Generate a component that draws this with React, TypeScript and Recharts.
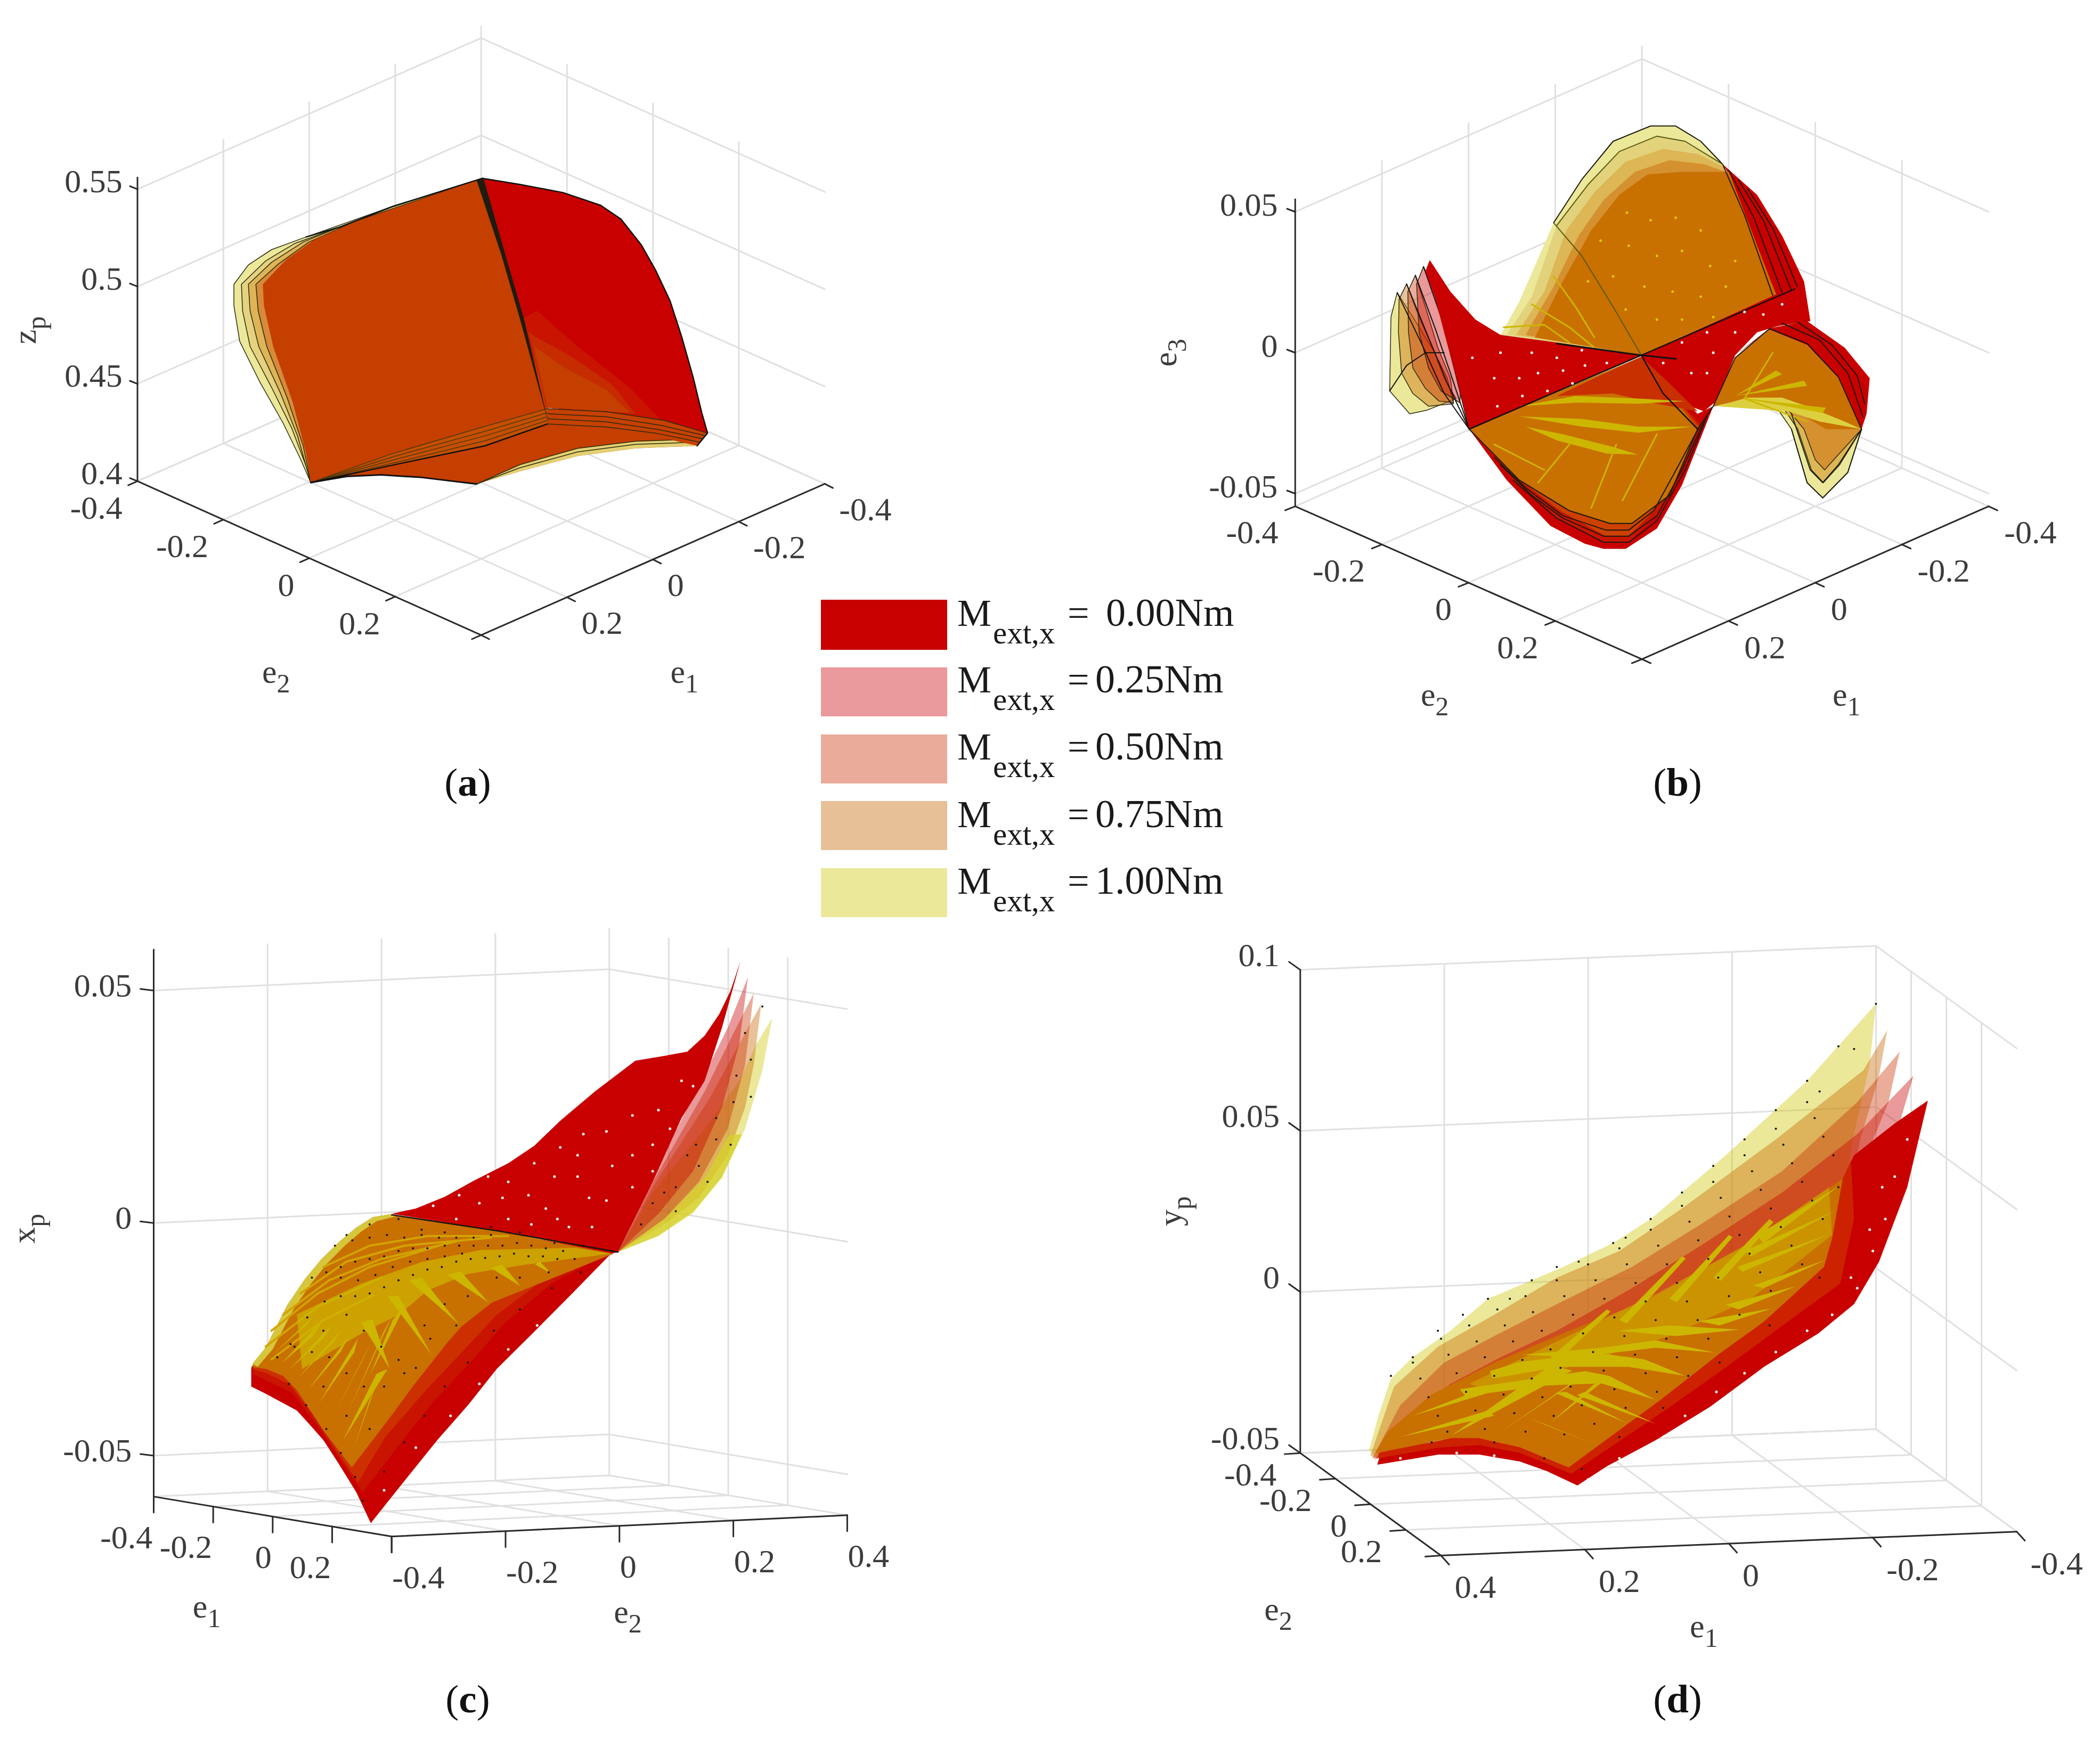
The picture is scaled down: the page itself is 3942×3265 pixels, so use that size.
import { Children } from "react";
import { ScatterChart, Scatter, XAxis, YAxis } from "recharts";

type Pt = [number, number];

const FONT = "'Liberation Serif', serif";
const TEXT = "#3c3c3c";
const RED = "#c80000";
const ORANGE = "#c87000";
const BROWN = "#c53f00";
const STREAK = "#cdb600";
const GRID = "#e0e0e0";
const AXIS = "#2b2b2b";

const E_TICKS = [-0.4, -0.2, 0, 0.2, 0.4];

const LEGEND_VALUES = ["0.00", "0.25", "0.50", "0.75", "1.00"];
const LEGEND_COLORS = ["#c80000", "#ea9a9c", "#eaab9a", "#e7c098", "#ebe89a"];

const LAYER_25 = "rgba(200,0,0,0.4)";
const LAYER_50 = "rgba(200,50,0,0.4)";
const LAYER_75 = "rgba(200,100,0,0.4)";
const LAYER_100 = "rgba(205,197,0,0.4)";

// ---- panel a, z_p ----
const A_LEFT_100: Pt[] = [[835,350],[680,405],[530,465],[470,490],[430,520],[405,558],[405,600],[415,670],[450,750],[490,830],[520,900],[538,947],[948,830]];
const A_LEFT_75: Pt[] = [[835,350],[680,406],[590,445],[510,478],[460,512],[418,558],[420,610],[433,680],[470,760],[505,840],[530,915],[538,947],[948,830]];
const A_LEFT_50: Pt[] = [[835,350],[600,440],[525,475],[470,515],[430,558],[433,610],[448,680],[485,770],[515,855],[538,947],[948,830]];
const A_LEFT_25: Pt[] = [[835,350],[610,437],[535,475],[482,518],[443,558],[447,610],[462,680],[497,780],[525,875],[538,947],[948,830]];
const A_LEFT_0: Pt[] = [[835,350],[620,433],[545,470],[495,510],[455,558],[457,600],[473,680],[507,790],[530,890],[538,947],[950,832],[948,800],[907,620]];
const A_BOTTOM: Pt[] = [[538,947],[600,935],[660,932],[730,937],[825,950],[900,925],[1000,895],[1100,880],[1207,875],[1225,850],[948,830]];
const A_EDGE_BOTTOM: Pt[] = [[538,947],[600,935],[660,932],[730,937],[825,950]];
const A_FAN_LEFT: Pt[] = [[538,947],[680,890],[830,840],[948,802],[948,832],[840,875],[700,908]];
const A_FAN_LINES: Pt[][] = [
  [[538,947],[680,890],[830,840],[948,802]],
  [[538,947],[685,895],[835,848],[948,810]],
  [[538,947],[690,900],[838,856],[948,818]],
  [[538,947],[695,905],[840,865],[948,825]],
];
const A_FAN_LAST: Pt[] = [[538,947],[700,908],[840,875],[948,832]];
const A_FRINGE: Pt[] = [[825,950],[900,925],[1000,895],[1100,880],[1207,875],[1205,862],[1100,866],[1000,880],[900,912]];
const A_FRINGE_LINES: Pt[][] = [
  [[825,950],[900,918],[1000,887],[1100,872],[1205,868]],
  [[825,950],[900,912],[1000,880],[1100,866],[1205,862]],
];
const A_RIGHT: Pt[] = [[835,350],[900,362],[975,378],[1040,403],[1075,430],[1110,480],[1135,530],[1160,590],[1180,660],[1200,740],[1215,810],[1225,850],[1100,818],[948,800],[905,620]];
const A_RIGHT_EDGE: Pt[] = [[835,350],[900,362],[975,378],[1040,403],[1075,430],[1110,480],[1135,530],[1160,590],[1180,660],[1200,740],[1215,810],[1225,850],[1207,875]];
const A_SHADE_1: Pt[] = [[905,625],[948,800],[1145,825],[1090,760],[1000,680],[930,610]];
const A_SHADE_2: Pt[] = [[915,650],[945,800],[1100,812],[1060,755],[990,700],[925,660]];
const A_SHADE_3: Pt[] = [[925,680],[948,800],[1090,810],[1050,765],[975,720]];
const A_FAN_RIGHT: Pt[] = [[948,802],[1050,808],[1150,825],[1225,850],[1207,875],[1130,855],[1050,840],[948,832]];
const A_FAN_RIGHT_LINES: Pt[][] = [
  [[948,802],[1050,808],[1150,825],[1225,850]],
  [[948,812],[1050,818],[1145,835],[1221,855]],
  [[948,822],[1050,828],[1140,843],[1217,861]],
  [[948,832],[1050,838],[1135,850],[1212,868]],
];
const A_RIDGE: Pt[] = [[825,353],[837,350],[880,520],[907,625],[950,832],[900,625],[868,500]];
const A_TOP_EDGE: Pt[] = [[835,350],[680,405],[590,445],[530,465]];

// ---- panel b, e_3 ----
const B_FIN_100: Pt[] = [[445,522],[435,570],[433,715],[465,760],[492,753],[539,730],[520,690],[505,640],[470,570]];
const B_FIN_75: Pt[] = [[460,505],[448,535],[447,600],[452,680],[470,720],[495,745],[535,740],[525,690],[505,640],[480,570]];
const B_FIN_50: Pt[] = [[474,488],[462,520],[463,600],[470,670],[490,710],[512,735],[535,738],[530,690],[510,630],[490,550]];
const B_FIN_25: Pt[] = [[487,471],[476,505],[480,600],[495,670],[515,715],[545,738],[548,690],[528,610],[510,530]];
const B_FIN_LINES: Pt[][] = [
  [[445,522],[485,625],[520,720],[560,790]],
  [[460,505],[495,610],[525,700],[560,790]],
  [[474,488],[505,590],[530,680],[560,790]],
  [[487,471],[515,570],[538,680],[560,790]],
  [[433,715],[460,665],[490,640],[520,640]],
];
const B_DOME_RED: Pt[] = [[965,270],[1020,330],[1060,410],[1095,500],[1105,578],[1040,590],[835,645],[980,300]];
const B_DOME_100: Pt[] = [[610,605],[640,540],[695,385],[740,300],[790,225],[850,195],[890,195],[930,225],[965,270],[1050,525],[835,645]];
const B_DOME_75: Pt[] = [[620,605],[660,530],[700,390],[750,310],[800,245],[860,215],[905,225],[965,270],[1050,525],[835,645]];
const B_DOME_50: Pt[] = [[635,605],[680,520],[715,400],[760,325],[810,265],[870,240],[925,250],[967,275],[1050,525],[835,645]];
const B_DOME_25: Pt[] = [[650,605],[695,510],[735,410],[775,340],[825,285],[880,262],[935,270],[970,285],[1050,525],[835,645]];
const B_DOME_0: Pt[] = [[665,610],[705,510],[755,400],[800,330],[845,290],[900,285],[975,285],[1050,525],[835,645]];
const B_DOME_DARK: Pt[][] = [
  [[965,270],[1000,370],[1045,527]],
  [[975,282],[1015,375],[1060,522]],
  [[990,300],[1030,380],[1075,518]],
  [[1005,318],[1045,395],[1085,512]],
  [[695,385],[740,300],[790,225],[850,195],[890,195],[930,225],[965,270]],
];
const B_DOME_SOFT: Pt[][] = [
  [[695,385],[740,450],[790,550],[835,645]],
  [[700,390],[750,310],[800,245],[860,215],[905,225],[965,270]],
];
const B_WING_LEFT: Pt[] = [[497,458],[530,520],[570,575],[610,605],[700,620],[835,645],[560,790],[540,690],[520,600],[505,530],[490,480]];
const B_WING_RIGHT: Pt[] = [[835,645],[1080,515],[1095,500],[1105,578],[1060,585],[1020,600],[985,645],[955,735],[935,755],[880,730],[850,680]];
const B_FRONT_RED: Pt[] = [[560,790],[620,890],[690,980],[745,1015],[775,1025],[810,1025],[860,985],[900,900],[950,745],[925,760],[835,648]];
const B_FRONT_1: Pt[] = [[572,805],[630,890],[700,965],[775,1012],[815,1012],[860,960],[900,870],[930,780],[835,648]];
const B_FRONT_2: Pt[] = [[566,798],[630,880],[705,950],[778,1000],[815,1000],[855,950],[895,860],[928,785],[835,648]];
const B_FRONT_0: Pt[] = [[560,790],[640,890],[720,950],[785,975],[820,975],[880,920],[925,790],[900,750],[835,648]];
const B_GLOW: Pt[] = [[835,648],[760,690],[700,725],[790,720],[860,740],[925,755],[880,700]];
const B_FRONT_LINES: Pt[][] = [
  [[560,790],[640,890],[720,950],[785,975],[820,975],[880,920],[925,790],[950,745],[985,650],[1040,593]],
  [[600,845],[650,905],[710,960],[778,988],[815,988],[855,950],[895,860],[930,780]],
  [[610,860],[660,920],[710,965],[775,1000],[815,1000],[860,960],[900,870],[935,775]],
  [[630,890],[700,965],[775,1012],[815,1012],[860,970],[905,870],[940,765]],
];
const B_LOBE_100: Pt[] = [[950,745],[1000,728],[1050,745],[1075,790],[1100,895],[1125,925],[1165,875],[1187,790],[1130,730],[1040,600]];
const B_LOBE_75: Pt[] = [[960,740],[1010,728],[1060,745],[1085,790],[1107,870],[1126,895],[1152,860],[1187,790],[1130,730],[1040,600]];
const B_LOBE_50: Pt[] = [[965,738],[1010,730],[1065,745],[1095,790],[1113,850],[1128,870],[1150,840],[1187,790],[1130,730],[1040,600]];
const B_LOBE_YELLOW: Pt[] = [[955,745],[1005,728],[1060,728],[1100,745],[1160,775],[1187,790],[1120,775],[1070,755]];
const B_LOBE_RED: Pt[] = [[985,645],[1040,592],[1100,578],[1160,630],[1200,690],[1195,760],[1187,790],[1150,690],[1100,625],[1040,595]];
const B_LOBE_0: Pt[] = [[950,745],[985,650],[1040,595],[1100,625],[1150,690],[1187,790],[1130,790],[1070,745],[1010,730]];
const B_LOBE_LINES: Pt[][] = [
  [[1040,593],[1100,622],[1150,688],[1187,790]],
  [[1060,582],[1120,615],[1165,680],[1189,765]],
  [[1085,580],[1140,625],[1180,685],[1192,740]],
  [[1075,790],[1100,895],[1125,925],[1165,875],[1187,790]],
  [[1075,760],[1105,870],[1125,895],[1150,860],[1187,790]],
];
const B_ARCS: Pt[][] = [
  [[640,745],[730,725],[830,730],[905,735],[830,740],[730,738]],
  [[640,765],[740,770],[830,785],[918,785],[830,797],[740,785]],
  [[650,785],[710,800],[790,825],[830,840],[780,838],[700,812]],
  [[985,725],[1050,675],[1060,682]],
  [[985,725],[1095,695],[1100,705]],
  [[990,728],[1130,748],[1125,758]],
];
const B_STREAKS_THIN: Pt[][] = [
  [[670,895],[720,820]],
  [[755,945],[795,820]],
  [[805,930],[860,800]],
  [[600,820],[680,870]],
  [[1000,730],[1045,640]],
  [[1000,730],[1100,775]],
];
const B_STREAKS_DOME: Pt[][] = [
  [[695,490],[730,550],[760,610]],
  [[660,545],[720,590],[770,640]],
  [[615,590],[680,585],[720,620]],
];
const B_WHITE_DOTS: Pt[] = [[600,690],[640,690],[670,680],[710,675],[745,665],[565,650],[610,640],[660,640],[700,650],[740,635],[780,660],[605,745],[645,725],[685,715],[725,700],[900,620],[940,600],[985,600],[1030,565],[1060,545],[1000,560],[950,640],[915,680],[870,660],[940,680]];
const B_YELLOW_DOTS: Pt[] = [[812,365],[850,380],[890,375],[930,400],[770,420],[815,430],[860,450],[900,440],[945,470],[985,460],[790,490],[840,510],[885,520],[930,530],[970,510],[750,500],[810,555],[860,575],[900,575],[950,570]];

// ---- panel c, x_p ----
const C_FIN_100: Pt[] = [[1070,652],[1140,620],[1200,575],[1250,510],[1290,420],[1320,310],[1337,212],[1310,260],[1280,330],[1220,420],[1130,540]];
const C_FIN_75: Pt[] = [[1070,652],[1150,600],[1210,550],[1260,470],[1290,380],[1305,300],[1318,185],[1280,260],[1230,360],[1130,530]];
const C_FIN_50: Pt[] = [[1070,652],[1150,590],[1210,520],[1260,420],[1290,300],[1305,165],[1270,240],[1220,350],[1120,540]];
const C_FIN_25: Pt[] = [[1070,652],[1140,580],[1200,500],[1250,380],[1280,260],[1295,135],[1260,230],[1210,340],[1110,550]];
const C_FIN_LOW: Pt[] = [[1070,652],[1140,622],[1200,578],[1250,512],[1285,430],[1262,432],[1222,510],[1150,590]];
const C_TOP: Pt[] = [[678,580],[720,570],[770,548],[820,518],[880,485],[925,452],[970,405],[1030,350],[1100,292],[1150,283],[1190,275],[1220,245],[1245,205],[1265,160],[1282,105],[1250,230],[1220,330],[1180,400],[1130,520],[1070,652],[860,612]];
const C_LOW: Pt[] = [[435,905],[461,919],[514,950],[535,975],[560,1006],[584,1046],[617,1104],[642,1162],[691,1095],[757,1006],[811,939],[860,872],[922,805],[988,733],[1058,655],[1070,652],[678,582],[617,606],[556,666],[498,751],[461,830],[435,870]];
const C_BAND_1: Pt[] = [[436,880],[461,894],[506,917],[556,988],[597,1055],[628,1104],[691,1015],[749,935],[815,859],[873,787],[955,711],[1017,675],[1062,655],[800,650],[500,780]];
const C_CORE: Pt[] = [[435,868],[461,872],[490,885],[514,912],[560,988],[609,1057],[667,975],[716,903],[774,823],[799,792],[852,747],[914,720],[996,684],[1062,655],[860,612],[675,581],[646,586],[617,606],[589,631],[556,666],[527,704],[498,751],[461,830]];
const C_BAND_2: Pt[] = [[436,872],[461,880],[500,900],[540,955],[585,1030],[620,1085],[667,1000],[735,915],[800,840],[860,770],[940,705],[1000,680],[1062,655],[800,650],[500,780]];
const C_FRINGE: Pt[] = [[437,862],[461,830],[498,751],[527,704],[556,666],[589,631],[617,606],[646,586],[675,581],[685,585],[652,594],[625,614],[597,640],[566,674],[538,712],[508,760],[472,835],[446,868]];
const C_RIDGE_BAND: Pt[] = [[514,769],[626,711],[729,671],[832,648],[996,644],[1058,655],[914,675],[811,693],[741,724],[692,769],[626,805],[523,872]];
const C_SPIKES: Pt[][] = [
  [[593,1008],[652,881],[671,872]],
  [[572,970],[626,859],[642,823]],
  [[552,937],[613,841],[620,814]],
  [[533,912],[589,841],[605,809]],
  [[515,890],[576,823],[593,796]],
  [[500,874],[560,814],[576,787]],
  [[486,863],[543,809],[560,778]],
  [[671,735],[690,735],[747,845]],
  [[708,705],[730,700],[794,787]],
  [[775,695],[797,688],[846,747]],
  [[850,682],[870,675],[901,716]],
  [[625,785],[645,778],[675,872]],
  [[926,675],[935,670],[955,693]],
  [[640,885],[680,780],[705,745]],
  [[600,960],[665,800],[680,770]],
  [[472,845],[530,790],[545,770]],
  [[610,1030],[640,930],[650,905]],
];
const C_FAN_LINES: Pt[][] = [
  [[470,854],[560,780],[646,733]],
  [[460,830],[550,755],[660,700]],
  [[470,800],[550,730],[640,680],[760,640]],
  [[490,770],[570,705],[660,665],[790,632]],
  [[520,730],[600,670],[700,640],[850,625]],
  [[560,680],[640,640],[740,622],[880,622]],
];
const C_BLACK_DOTS: Pt[] = [
  [503,825],[532,775],[562,745],[590,735],[615,735],[640,730],[665,718],[690,705],[715,695],[740,685],[765,680],[790,670],[815,665],[840,663],[865,660],[890,655],[915,660],[940,660],[965,665],[995,665],
  [540,700],[565,690],[590,680],[615,670],[640,665],[665,660],[690,650],[715,645],[740,645],[770,640],[795,640],[820,640],[845,640],[870,640],[895,635],[920,640],[945,645],[975,650],
  [580,640],[610,630],[640,625],[670,620],[700,625],[730,620],[760,625],[790,625],[820,625],[850,620],[590,700],[620,705],[650,695],[680,680],[710,670],[740,665],[770,660],[800,655],
  [480,850],[510,830],[560,800],[600,770],[630,800],[660,830],[690,855],[720,870],[735,790],[770,750],[810,735],[860,700],[900,700],[950,690],
  [540,840],[570,850],[600,880],[630,905],[665,905],[700,880],[745,815],[790,790],[600,960],[640,985],[560,905],
  [600,620],[640,600],[690,590],[730,610],[770,615],[850,605],[900,615],[960,635],[1010,640],[1060,650],
  [500,900],[530,940],[565,985],[590,1030],[615,1075],[628,1120],[665,1065],[700,1010],[735,960],[770,905],[810,860],[855,800],[900,760],[955,720],[1005,690],
  [1130,560],[1170,530],[1210,490],[1240,440],[1270,370],[1300,290],[1320,190],[1290,240],[1110,600],[1170,575],[1225,520],[1265,450],[1300,360],[1190,470],[1240,400],[1275,320],[1150,540],[1205,450],
];
const C_WHITE_DOTS: Pt[] = [[750,565],[795,545],[845,510],[880,520],[925,485],[970,455],[1010,430],[1050,425],[1095,395],[1140,385],[1180,330],[790,590],[830,560],[870,550],[915,545],[960,510],[1000,510],[1020,550],[1060,490],[1095,470],[1130,450],[1160,420],[945,570],[985,605],[1025,605],[1050,555],[1095,530],[1130,500],[880,590],[920,600],[965,590],[1200,340],[1000,470],[665,1100],[720,1020],[780,960],[830,900],[880,835],[930,790]];

// ---- panel d, y_p ----
const D_LOWER: Pt[] = [[719,1057],[684,1040],[641,1019],[576,1002],[510,1005],[413,1040]];
const D_100: Pt[] = [[400,1025],[415,960],[435,890],[470,850],[530,800],[590,740],[650,710],[710,680],[790,635],[850,590],[970,470],[1100,330],[1210,185],[1200,300],[1175,430],[1140,660],...D_LOWER];
const D_75: Pt[] = [[402,1035],[440,905],[510,830],[600,770],[700,700],[800,650],[900,570],[1050,440],[1190,310],[1228,235],[1215,320],[1185,440],[1150,660],...D_LOWER];
const D_50: Pt[] = [[405,1040],[450,940],[520,860],[600,810],[700,750],[820,680],[930,600],[1060,500],[1180,370],[1248,275],[1230,370],[1195,470],[1160,660],...D_LOWER];
const D_25: Pt[] = [[408,1045],[460,960],[530,900],[610,850],[700,800],[820,720],[930,640],[1060,540],[1180,430],[1270,320],[1245,420],[1205,510],[1165,680],...D_LOWER];
const D_RED: Pt[] = [[1293,367],[1260,530],[1215,670],[1175,750],[1118,805],[1031,868],[945,943],[858,1006],[780,1055],[733,1091],[684,1064],[641,1046],[576,1033],[511,1033],[413,1052],[419,1030],[511,1010],[576,1005],[719,1057],[1157,514],[1175,470],[1240,410]];
const D_BAND_LOW: Pt[] = [[415,1040],[511,1020],[576,1015],[641,1030],[684,1050],[723,1069],[719,1057],[684,1040],[641,1019],[576,1002],[532,1002],[415,1030]];
const D_BAND_RIGHT: Pt[] = [[723,1069],[875,948],[962,876],[1075,778],[1153,711],[1175,590],[1170,480],[1157,514],[1140,626],[1127,680],[1031,783],[958,845],[866,930],[719,1057]];
const D_CORE: Pt[] = [[410,1030],[532,1002],[576,1002],[641,1019],[684,1040],[719,1057],[866,930],[958,845],[1031,783],[1127,680],[1140,626],[1157,514],[1000,640],[850,740],[720,800],[600,860],[500,920],[430,990]];
const D_GLOW: Pt[] = [[560,900],[700,820],[860,730],[1000,640],[1135,530],[1140,620],[1010,740],[880,810],[740,860],[600,915]];
const D_SPIKES: Pt[][] = [
  [[593,876],[640,859],[762,841],[840,854],[905,885],[814,868],[706,868],[597,890]],
  [[545,910],[641,894],[745,876],[784,885],[858,930],[771,899],[684,903],[554,923]],
  [[645,845],[771,832],[858,818],[953,841],[858,832],[728,850]],
  [[797,800],[880,790],[992,798],[890,810]],
  [[927,782],[1044,758],[960,790]],
  [[970,751],[1083,716],[990,760]],
  [[1014,715],[1131,666],[1031,720]],
  [[988,680],[1135,619],[997,689]],
  [[1000,650],[1144,575],[1010,660]],
  [[1020,620],[1151,528],[1030,635]],
  [[532,997],[690,865],[725,875]],
  [[602,997],[745,881],[725,900]],
  [[688,975],[780,890],[760,900]],
  [[658,966],[762,1015],[680,975]],
  [[697,917],[814,975],[715,915]],
  [[732,921],[858,975],[745,915]],
  [[470,960],[600,900],[610,910]],
  [[450,1000],[590,950],[600,960]],
  [[800,780],[900,660],[906,664],[812,786]],
  [[880,740],[975,620],[981,624],[892,746]],
  [[950,700],[1040,590],[1046,596],[962,706]],
  [[690,850],[780,760],[786,764],[702,856]],
];
const D_BLACK_DOTS: Pt[] = [
  [435,885],[470,850],[510,800],[550,770],[590,740],[625,740],[660,705],[700,680],[735,670],[790,635],[810,625],[850,590],[900,540],[950,490],[1000,440],[1050,385],[1100,330],[1150,265],[1210,185],[1175,270],[1120,350],
  [470,860],[482,890],[495,925],[510,960],[525,990],
  [515,815],[527,845],[540,880],[555,915],[570,950],[585,985],
  [560,790],[572,820],[585,850],[600,885],[615,920],[632,955],[650,990],
  [605,760],[617,790],[630,820],[645,855],[660,890],[677,925],[695,960],[712,995],
  [650,735],[662,765],[676,800],[690,835],[706,870],[722,905],[740,940],[760,975],
  [700,705],[712,735],[726,770],[742,805],[758,840],[775,875],[792,910],[810,945],
  [750,675],[762,705],[776,740],[792,775],[808,810],[825,845],[842,880],[860,915],
  [800,645],[812,675],[826,710],[842,745],[858,780],[875,815],[892,850],[910,885],
  [850,610],[862,640],[876,675],[892,710],[908,745],[925,780],[942,815],
  [900,565],[912,595],[926,630],[942,665],[958,700],[975,735],[992,770],
  [950,520],[962,550],[976,585],[992,620],[1008,655],[1025,690],[1042,725],
  [1000,470],[1012,500],[1026,535],[1042,570],[1058,605],[1075,640],[1092,675],
  [1050,420],[1062,450],[1076,485],[1092,520],[1108,555],[1125,590],
  [1100,370],[1112,400],[1126,435],[1142,470],[1150,530],
  [740,1060],[800,1000],[870,945],[960,860],[1040,790],[1120,700],[500,1010],[600,1010],[680,1040],
];
const D_WHITE_DOTS: Pt[] = [[905,960],[955,915],[1000,880],[1050,840],[1100,800],[1140,770],[1180,720],[1205,650],[1225,590],[1240,510],[1260,440],[870,1000],[800,1040],[750,1080],[1170,700],[1200,610],[1220,530],[1180,770],[600,1035],[540,1030],[450,1040]];

// ---- views: how e1, e2, z land in each panel's plane ----
type View = {
  origin: Pt; vE1: Pt; vE2: Pt; vZ: number; zRef: number; zMin: number; zMax: number;
  zTicks: number[]; zLabels: string[];
  backE1: number; backE2: number; zAxisAt: Pt; e1AxisE2: number; e2AxisE1: number;
  e1Labels: number[]; e2Labels: number[];
  tickE1: Pt; tickE2: Pt; tickZ: Pt;
  labelE1: Pt; labelE2: Pt; labelZ: Pt;
  anchorE1: string; anchorE2: string;
  titles: { x: number; y: number; main: string; sub: string; rotate?: boolean }[];
};

const VIEW_A: View = {
  origin: [833, 947], vE1: [-743.75, 371], vE2: [743.75, 377.5], vZ: -3820, zRef: 0.4, zMin: 0.4, zMax: 0.556,
  zTicks: [0.4, 0.45, 0.5, 0.55], zLabels: ["0.4", "0.45", "0.5", "0.55"],
  backE1: -0.4, backE2: -0.4, zAxisAt: [0.4, -0.4], e1AxisE2: 0.4, e2AxisE1: 0.4,
  e1Labels: [-0.4, -0.2, 0, 0.2], e2Labels: [-0.4, -0.2, 0, 0.2],
  tickE1: [14, 8], tickE2: [-16, 8], tickZ: [-13, -6],
  labelE1: [25, 50], labelE2: [-26, 52], labelZ: [-26, -16], anchorE1: "start", anchorE2: "end",
  titles: [
    { x: 478, y: 1340, main: "e", sub: "2" },
    { x: 1185, y: 1340, main: "e", sub: "1" },
    { x: 62, y: 648, main: "z", sub: "p", rotate: true },
  ],
};
const VIEW_B: View = {
  origin: [836, 640], vE1: [-692.5, 375], vE2: [692.5, 375], vZ: -5530, zRef: 0, zMin: -0.0545, zMax: 0.0545,
  zTicks: [-0.05, 0, 0.05], zLabels: ["-0.05", "0", "0.05"],
  backE1: -0.4, backE2: -0.4, zAxisAt: [0.4, -0.4], e1AxisE2: 0.4, e2AxisE1: 0.4,
  e1Labels: [-0.4, -0.2, 0, 0.2], e2Labels: [-0.4, -0.2, 0, 0.2],
  tickE1: [14, 8], tickE2: [-16, 8], tickZ: [-13, -6],
  labelE1: [25, 51], labelE2: [-27, 51], labelZ: [-28, -14], anchorE1: "start", anchorE2: "end",
  titles: [
    { x: 505, y: 1333, main: "e", sub: "2" },
    { x: 1163, y: 1333, main: "e", sub: "1" },
    { x: 92, y: 640, main: "e", sub: "3", rotate: true },
  ],
};
const VIEW_C: View = {
  origin: [866.5, 615], vE1: [515, 93.75], vE2: [986, -50], vZ: -8750, zRef: 0, zMin: -0.0588, zMax: 0.0588,
  zTicks: [-0.05, 0, 0.05], zLabels: ["-0.05", "0", "0.05"],
  backE1: -0.4, backE2: 0.4, zAxisAt: [-0.4, -0.4], e1AxisE2: -0.4, e2AxisE1: 0.4,
  e1Labels: [-0.4, -0.2, 0, 0.2], e2Labels: [-0.4, -0.2, 0, 0.2, 0.4],
  tickE1: [0, 30], tickE2: [0, 30], tickZ: [-23, -3],
  labelE1: [-2, 76], labelE2: [1, 76], labelZ: [-38, -10], anchorE1: "end", anchorE2: "start",
  titles: [
    { x: 358, y: 1340, main: "e", sub: "1" },
    { x: 1087, y: 1350, main: "e", sub: "2" },
    { x: 60, y: 608, main: "x", sub: "p", rotate: true },
  ],
};
const VIEW_D: View = {
  origin: [862.5, 801], vE1: [-1150, 56.25], vE2: [281, 241], vZ: -6060, zRef: 0, zMin: -0.05, zMax: 0.1,
  zTicks: [-0.05, 0, 0.05, 0.1], zLabels: ["-0.05", "0", "0.05", "0.1"],
  backE1: -0.4, backE2: -0.4, zAxisAt: [0.4, -0.4], e1AxisE2: 0.4, e2AxisE1: 0.4,
  e1Labels: [-0.4, -0.2, 0, 0.2, 0.4], e2Labels: [-0.4, -0.2, 0, 0.2],
  tickE1: [13, 17], tickE2: [-25, 2], tickZ: [-18, -15],
  labelE1: [22, 59], labelE2: [-38, 40], labelZ: [-33, -28], anchorE1: "start", anchorE2: "end",
  titles: [
    { x: 255, y: 1345, main: "e", sub: "2" },
    { x: 935, y: 1377, main: "e", sub: "1" },
    { x: 100, y: 575, main: "y", sub: "p", rotate: true },
  ],
};

const noDot = () => null;

function poly(pts: Pt[], fill: string, stroke = "none", sw = 0) {
  const rows = pts.map(([x, y]) => ({ x, y }));
  return (
    <Scatter
      data={rows}
      isAnimationActive={false}
      shape={noDot}
      line={(p: any) => (
        <path
          d={"M" + p.points.map((q: any) => `${q.x},${q.y}`).join("L") + "Z"}
          fill={fill}
          stroke={stroke}
          strokeWidth={sw}
          strokeLinejoin="round"
        />
      )}
    />
  );
}

function line(pts: Pt[], stroke: string, sw: number) {
  const rows = pts.map(([x, y]) => ({ x, y }));
  return (
    <Scatter
      data={rows}
      isAnimationActive={false}
      shape={noDot}
      line={(p: any) => (
        <path
          d={"M" + p.points.map((q: any) => `${q.x},${q.y}`).join("L")}
          fill="none"
          stroke={stroke}
          strokeWidth={sw}
          strokeLinejoin="round"
          strokeLinecap="round"
        />
      )}
    />
  );
}

function dots(pts: Pt[], fill: string, r: number) {
  return (
    <Scatter
      data={pts.map(([x, y]) => ({ x, y }))}
      isAnimationActive={false}
      shape={(p: any) => <circle cx={p.cx} cy={p.cy} r={r} fill={fill} />}
    />
  );
}

function labels(rows: { x: number; y: number; text: string }[], anchor: string) {
  return (
    <Scatter
      data={rows}
      isAnimationActive={false}
      shape={(p: any) => (
        <text x={p.cx} y={p.cy} textAnchor={anchor} dominantBaseline="central" fontFamily={FONT} fontSize={62} fill={TEXT}>
          {p.payload.text}
        </text>
      )}
    />
  );
}

function title(t: View["titles"][number]) {
  return (
    <Scatter
      data={[{ x: t.x, y: t.y }]}
      isAnimationActive={false}
      shape={(p: any) => (
        <text
          transform={t.rotate ? `rotate(-90 ${p.cx} ${p.cy})` : undefined}
          x={p.cx}
          y={p.cy}
          textAnchor="middle"
          fontFamily={FONT}
          fontSize={62}
          fill={TEXT}
        >
          {t.main}
          <tspan dy={18} fontSize={50}>{t.sub}</tspan>
        </text>
      )}
    />
  );
}

function project(v: View, e1: number, e2: number, z: number): Pt {
  return [
    v.origin[0] + e1 * v.vE1[0] + e2 * v.vE2[0],
    v.origin[1] + e1 * v.vE1[1] + e2 * v.vE2[1] + (z - v.zRef) * v.vZ,
  ];
}

function frame(v: View) {
  const at = (e1: number, e2: number, z: number) => project(v, e1, e2, z);
  const out = [];
  // floor and the two back walls
  for (const t of E_TICKS) {
    out.push(line([at(t, -0.4, v.zMin), at(t, 0.4, v.zMin)], GRID, 3));
    out.push(line([at(-0.4, t, v.zMin), at(0.4, t, v.zMin)], GRID, 3));
    if (Math.abs(t) < 0.4) {
      out.push(line([at(t, v.backE2, v.zMin), at(t, v.backE2, v.zMax)], GRID, 3));
      out.push(line([at(v.backE1, t, v.zMin), at(v.backE1, t, v.zMax)], GRID, 3));
    }
  }
  out.push(line([at(v.backE1, v.backE2, v.zMin), at(v.backE1, v.backE2, v.zMax)], GRID, 3));
  for (const z of v.zTicks) {
    out.push(line([at(-0.4, v.backE2, z), at(0.4, v.backE2, z)], GRID, 3));
    out.push(line([at(v.backE1, -0.4, z), at(v.backE1, 0.4, z)], GRID, 3));
  }
  // axes with their tick marks
  const [za, zb] = v.zAxisAt;
  out.push(line([at(za, zb, v.zMin), at(za, zb, v.zMax)], AXIS, 3));
  out.push(line([at(-0.4, v.e1AxisE2, v.zMin), at(0.4, v.e1AxisE2, v.zMin)], AXIS, 3));
  out.push(line([at(v.e2AxisE1, -0.4, v.zMin), at(v.e2AxisE1, 0.4, v.zMin)], AXIS, 3));
  for (const t of E_TICKS) {
    const p = at(t, v.e1AxisE2, v.zMin);
    out.push(line([p, [p[0] + v.tickE1[0], p[1] + v.tickE1[1]]], AXIS, 3));
    const q = at(v.e2AxisE1, t, v.zMin);
    out.push(line([q, [q[0] + v.tickE2[0], q[1] + v.tickE2[1]]], AXIS, 3));
  }
  for (const z of v.zTicks) {
    const p = at(za, zb, z);
    out.push(line([p, [p[0] + v.tickZ[0], p[1] + v.tickZ[1]]], AXIS, 3));
  }
  return out;
}

function tickText(v: View) {
  const name = (t: number) => (t === 0 ? "0" : t.toFixed(1));
  const e1Rows = v.e1Labels.map((t) => {
    const p = project(v, t, v.e1AxisE2, v.zMin);
    return { x: p[0] + v.labelE1[0], y: p[1] + v.labelE1[1], text: name(t) };
  });
  const e2Rows = v.e2Labels.map((t) => {
    const p = project(v, v.e2AxisE1, t, v.zMin);
    return { x: p[0] + v.labelE2[0], y: p[1] + v.labelE2[1], text: name(t) };
  });
  const zRows = v.zTicks.map((z, i) => {
    const p = project(v, v.zAxisAt[0], v.zAxisAt[1], z);
    return { x: p[0] + v.labelZ[0], y: p[1] + v.labelZ[1], text: v.zLabels[i] };
  });
  return [labels(e1Rows, v.anchorE1), labels(e2Rows, v.anchorE2), labels(zRows, "end"), ...v.titles.map(title)];
}

const thin = "#2a2a14";

function marksA() {
  return [
    poly(A_LEFT_100, "#ebe89a", thin, 1.5),
    poly(A_LEFT_75, "#e6d27e", thin, 1.5),
    poly(A_LEFT_50, "#dfb457", thin, 1.5),
    poly(A_LEFT_25, "#d68a3a", thin, 1.5),
    poly(A_LEFT_0, BROWN),
    poly(A_BOTTOM, BROWN),
    poly(A_FRINGE, "#e3d070"),
    ...A_FRINGE_LINES.map((l) => line(l, thin, 1.5)),
    poly(A_FAN_LEFT, "#c64e00"),
    ...A_FAN_LINES.map((l) => line(l, "#4a3a10", 1.5)),
    line(A_FAN_LAST, "#111", 2.5),
    line(A_EDGE_BOTTOM, "#111", 3),
    poly(A_RIGHT, RED),
    poly(A_SHADE_1, "#c81400"),
    poly(A_SHADE_2, "#c52c00"),
    poly(A_SHADE_3, BROWN),
    poly(A_FAN_RIGHT, "#c64000"),
    ...A_FAN_RIGHT_LINES.map((l) => line(l, thin, 1.5)),
    line(A_RIGHT_EDGE, "#111", 2.5),
    poly(A_RIDGE, "#1c1c10"),
    line(A_TOP_EDGE, "#111", 2.5),
  ];
}

function marksB() {
  return [
    poly(B_FIN_100, "#ebe89a", thin, 1.5),
    poly(B_FIN_75, LAYER_75, thin, 1.5),
    poly(B_FIN_50, LAYER_50, thin, 1.5),
    poly(B_FIN_25, LAYER_25, thin, 1.5),
    ...B_FIN_LINES.map((l) => line(l, "#111", 2)),
    poly(B_DOME_RED, RED),
    poly(B_DOME_100, "#ebe89a"),
    poly(B_DOME_75, "#e2d27c"),
    poly(B_DOME_50, "#ddb655"),
    poly(B_DOME_25, "#d59030"),
    poly(B_DOME_0, ORANGE),
    ...B_DOME_DARK.map((l) => line(l, "#1a1a10", 2)),
    ...B_DOME_SOFT.map((l) => line(l, "#5a5a10", 2)),
    ...B_STREAKS_DOME.map((l) => line(l, STREAK, 3)),
    dots(B_YELLOW_DOTS, "#dcc800", 2.5),
    poly(B_WING_LEFT, RED),
    poly(B_WING_RIGHT, RED),
    poly(B_FRONT_RED, RED),
    poly(B_FRONT_1, "#c81400"),
    poly(B_FRONT_2, "#cc4000"),
    poly(B_FRONT_0, ORANGE),
    poly(B_GLOW, "#c83000"),
    poly(B_LOBE_100, "#ebe89a", thin, 1.5),
    poly(B_LOBE_75, "#ddb655", thin, 1.5),
    poly(B_LOBE_50, "#d59030", thin, 1.5),
    poly(B_LOBE_RED, RED),
    poly(B_LOBE_0, ORANGE),
    poly(B_LOBE_YELLOW, "#dcd040"),
    ...B_ARCS.map((s) => poly(s, STREAK)),
    ...B_STREAKS_THIN.map((l) => line(l, STREAK, 3)),
    ...B_FRONT_LINES.map((l) => line(l, "#1a1a10", 2)),
    ...B_LOBE_LINES.map((l) => line(l, "#1a1a10", 2)),
    line([[560, 790], [835, 645], [1080, 515]], "#111", 2.5),
    line([[700, 622], [835, 645], [890, 652]], "#111", 3),
    line([[835, 645], [870, 720], [925, 790]], "#111", 2.5),
    dots(B_WHITE_DOTS, "#ffffff", 2.5),
  ];
}

function marksC() {
  return [
    poly(C_FIN_100, LAYER_100),
    poly(C_FIN_75, LAYER_75),
    poly(C_FIN_50, LAYER_50),
    poly(C_FIN_25, LAYER_25),
    poly(C_FIN_LOW, "rgba(214,210,40,0.75)"),
    poly(C_TOP, RED),
    poly(C_LOW, RED),
    poly(C_BAND_1, "#c81400"),
    poly(C_BAND_2, "#cc3000"),
    poly(C_CORE, ORANGE),
    poly(C_FRINGE, "#d6c63c"),
    ...C_FAN_LINES.map((l) => line(l, "#d2a400", 4)),
    poly(C_RIDGE_BAND, "rgba(205,182,0,0.7)"),
    ...C_SPIKES.map((s) => poly(s, STREAK)),
    line([[678, 582], [860, 612], [1070, 652]], "#151510", 2.5),
    dots(C_WHITE_DOTS, "#ffffff", 2.5),
    dots(C_BLACK_DOTS, "#141408", 2),
  ];
}

function marksD() {
  return [
    poly(D_100, LAYER_100),
    poly(D_75, LAYER_75),
    poly(D_50, LAYER_50),
    poly(D_25, LAYER_25),
    poly(D_RED, RED),
    poly(D_BAND_LOW, "#cc2200"),
    poly(D_BAND_RIGHT, "#cc2200"),
    poly(D_CORE, ORANGE),
    poly(D_GLOW, "rgba(205,182,0,0.5)"),
    ...D_SPIKES.map((s) => poly(s, STREAK)),
    dots(D_WHITE_DOTS, "#ffffff", 2.5),
    dots(D_BLACK_DOTS, "#141408", 2),
  ];
}

function Panel({ left, top, width, height, view, marks }: { left: number; top: number; width: number; height: number; view: View; marks: any[] }) {
  return (
    <div style={{ position: "absolute", left, top }}>
      <ScatterChart width={width} height={height} margin={{ top: 0, right: 0, bottom: 0, left: 0 }}>
        <XAxis type="number" dataKey="x" domain={[0, 1568]} hide allowDataOverflow />
        <YAxis type="number" dataKey="y" domain={[0, 1568]} reversed hide allowDataOverflow />
        {Children.toArray([...frame(view), ...marks, ...tickText(view)])}
      </ScatterChart>
    </div>
  );
}

function Legend() {
  const swatchTop = [1126, 1253, 1379, 1504, 1630];
  const swatchH = [94, 92, 92, 92, 92];
  const baseline = [1175, 1300, 1426, 1553, 1678];
  return (
    <svg style={{ position: "absolute", left: 0, top: 0 }} width={3942} height={3265}>
      {LEGEND_VALUES.map((value, i) => (
        <g key={value} fontFamily={FONT} fill="#1a1a1a">
          <rect x={1541} y={swatchTop[i]} width={237} height={swatchH[i]} fill={LEGEND_COLORS[i]} />
          <text x={1797} y={baseline[i]} fontSize={72}>M</text>
          <text x={1864} y={baseline[i] + 33} fontSize={59}>ext,x</text>
          <text x={2004} y={baseline[i]} fontSize={72}>=</text>
          <text x={i === 0 ? 2076 : 2056} y={baseline[i]} fontSize={74}>{value}Nm</text>
        </g>
      ))}
      {[
        { x: 878, y: 1494, letter: "a" },
        { x: 3149, y: 1494, letter: "b" },
        { x: 878, y: 3215, letter: "c" },
        { x: 3149, y: 3215, letter: "d" },
      ].map((c) => (
        <text key={c.letter} x={c.x} y={c.y} textAnchor="middle" fontFamily={FONT} fontSize={75} fill="#111">
          (<tspan fontWeight="bold">{c.letter}</tspan>)
        </text>
      ))}
    </svg>
  );
}

export default function App() {
  return (
    <div style={{ position: "absolute", left: 0, top: 0, width: 3942, height: 3265, background: "#fff", overflow: "hidden" }}>
      <Panel left={0} top={0} width={1700} height={1500} view={VIEW_A} marks={marksA()} />
      <Panel left={2100} top={50} width={1842} height={1500} view={VIEW_B} marks={marksB()} />
      <Panel left={0} top={1700} width={1700} height={1565} view={VIEW_C} marks={marksC()} />
      <Panel left={2100} top={1700} width={1842} height={1565} view={VIEW_D} marks={marksD()} />
      <Legend />
    </div>
  );
}
